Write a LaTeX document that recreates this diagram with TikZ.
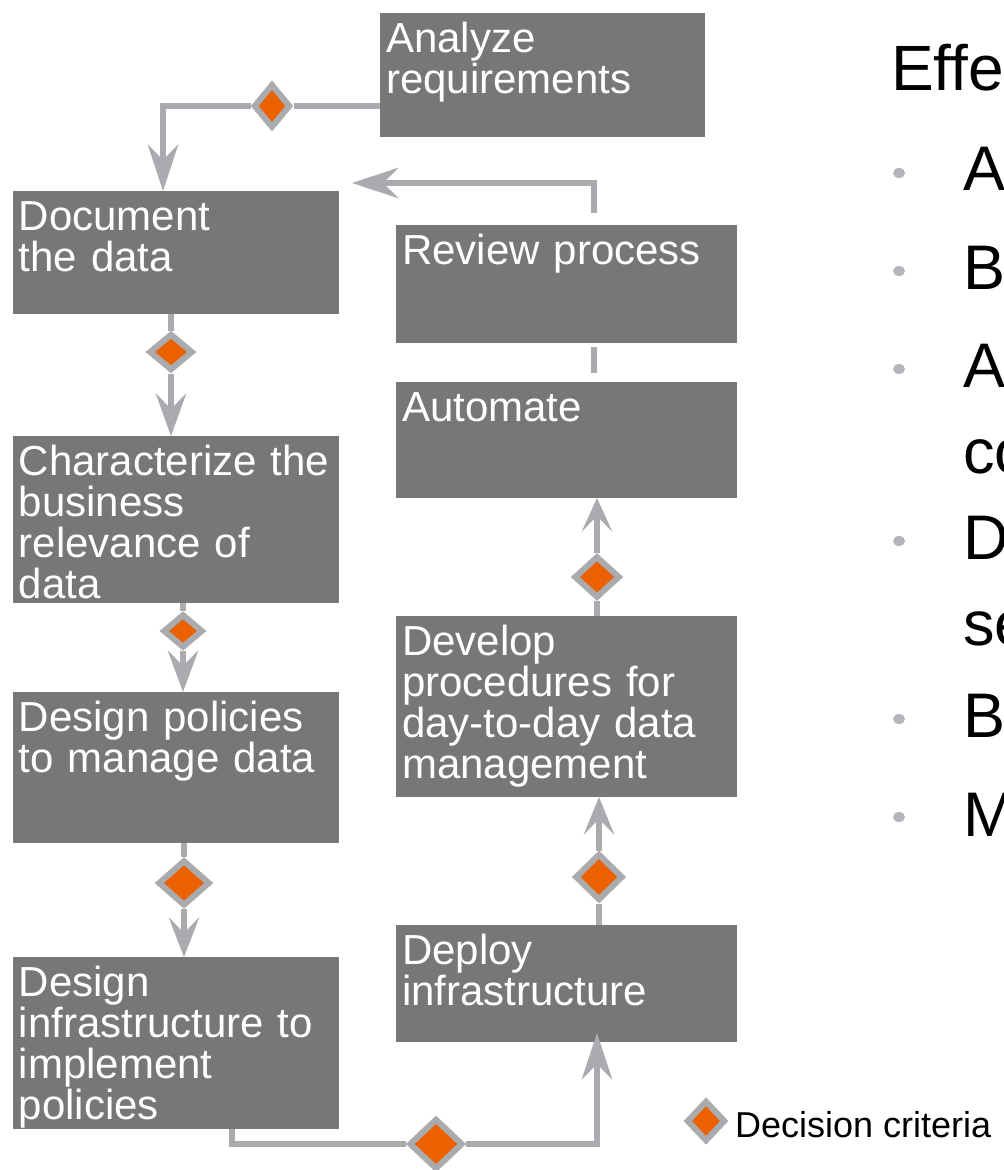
\documentclass[tikz,border=0pt]{standalone}
\usepackage{fontspec}
\setmainfont{Liberation Sans}
\usetikzlibrary{arrows.meta,shapes.geometric,calc}
\definecolor{boxgray}{HTML}{777777}
\definecolor{linegray}{HTML}{AAABAF}
\definecolor{dorange}{HTML}{EB6100}
\definecolor{dotgray}{HTML}{B4B5B8}
\begin{document}
\begin{tikzpicture}[x=1pt,y=-1pt,
  box/.style={fill=boxgray, draw=none, inner sep=0pt, outer sep=0pt, anchor=north west},
  boxtext/.style={text=white, font=\fontsize{42}{41}\selectfont, text width=330pt, align=left, inner sep=0pt, anchor=base west},
  conn/.style={draw=linegray, line width=6pt},
  arr/.style={conn, -{Stealth[length=#1, width=31pt, inset=16pt, line width=0pt]}},
  arr/.default=43pt,
  crit/.style={shape=diamond, fill=dorange, draw=linegray, line width=6pt, inner sep=0pt},
  side/.style={text=black, inner sep=0pt, anchor=base west},
  bullettext/.style={side, font=\fontsize{63}{63}\selectfont},
  bdot/.style={shape=ellipse, fill=dotgray, draw=none, inner sep=0pt, minimum width=12pt, minimum height=10pt}
]
\useasboundingbox (0,0) rectangle (1004,1170);
\clip (0,0) rectangle (1004,1170);

% boxes
\node[box, minimum width=325pt, minimum height=124pt] (A)    at (380,13)  {};
\node[box, minimum width=326pt, minimum height=123pt] (Doc)  at (13,191)  {};
\node[box, minimum width=341pt, minimum height=118pt] (Rev)  at (396,225) {};
\node[box, minimum width=341pt, minimum height=116pt] (Aut)  at (396,382) {};
\node[box, minimum width=326pt, minimum height=167pt] (Char) at (13,436)  {};
\node[box, minimum width=341pt, minimum height=181pt] (Dev)  at (396,616) {};
\node[box, minimum width=326pt, minimum height=151pt] (Pol)  at (13,692)  {};
\node[box, minimum width=341pt, minimum height=117pt] (Dep)  at (396,925) {};
\node[box, minimum width=326pt, minimum height=172pt] (Inf)  at (13,957)  {};

% box texts
\node[boxtext] (At)    at ($(A.north west)+(6,39)$)    {Analyze\\requirements};
\node[boxtext] (Doct)  at ($(Doc.north west)+(5.5,39)$)  {Document\\the data};
\node[boxtext] (Revt)  at ($(Rev.north west)+(6,39)$)  {Review process};
\node[boxtext] (Autt)  at ($(Aut.north west)+(6,39)$)  {Automate};
\node[boxtext] (Chart) at ($(Char.north west)+(5.5,39)$) {Characterize the\\business\\relevance of\\data};
\node[boxtext] (Devt)  at ($(Dev.north west)+(6,39)$)  {Develop\\procedures for\\day-to-day data\\management};
\node[boxtext] (Polt)  at ($(Pol.north west)+(5.5,39)$)  {Design policies\\to manage data};
\node[boxtext] (Dept)  at ($(Dep.north west)+(6,39)$)  {Deploy\\infrastructure};
\node[boxtext] (Inft)  at ($(Inf.north west)+(5.5,39)$)  {Design\\infrastructure to\\implement\\policies};

% decision diamonds
\node[crit, minimum width=37pt, minimum height=44pt] (D1) at (272,106) {};
\node[crit, minimum width=44pt, minimum height=37pt] (D2) at (171,352) {};
\node[crit, minimum width=40pt, minimum height=34pt] (D3) at (183,631) {};
\node[crit, minimum width=52pt, minimum height=46pt] (D4) at (184,883) {};
\node[crit, minimum width=54pt, minimum height=51pt] (D5) at (436,1144) {};
\node[crit, minimum width=48pt, minimum height=47pt] (D6) at (599,877) {};
\node[crit, minimum width=46pt, minimum height=42pt] (D7) at (597,577) {};

% helper coordinates
\coordinate (k1) at (163,0);
\coordinate (k5) at (232,0);
\coordinate (k6) at (597,0);
\coordinate (k7) at (594,0);
\coordinate (k8) at (352,183);

% connectors
\draw[conn] (A.west |- D1) -- (D1);
\draw[arr=47pt] (D1) -| (Doc.north -| k1);
\draw[conn] (Doc.south -| D2) -- (D2);
\draw[arr=43pt] (D2) -- (Char.north -| D2);
\draw[conn] (Char.south -| D3) -- (D3);
\draw[arr=42pt] (D3) -- (Pol.north -| D3);
\draw[conn] (Pol.south -| D4) -- (D4);
\draw[arr=40pt] (D4) -- (Inf.north -| D4);
\draw[conn] (Inf.south -| k5) |- (D5);
\draw[arr=47pt] (D5) -| ($(Dep.south -| k6)+(0,-9)$);
\draw[conn] (Dep.north -| D6) -- (D6);
\draw[arr=38pt] (D6) -- (Dev.south -| D6);
\draw[conn] (Dev.north -| D7) -- (D7);
\draw[arr=34pt] (D7) -- (Aut.south -| D7);
\draw[conn] ($(Rev.south -| k7)+(0,4)$) -- ($(Aut.north -| k7)+(0,-9)$);
\draw[arr=47pt] ($(Rev.north -| k7)+(0,-12)$) |- (k8);

% legend
\node[crit, minimum width=39pt, minimum height=41pt] (DL) at (706,1121) {};
\node[side, font=\fontsize{36}{36}\selectfont] (Lt) at (735,1137) {Decision criteria};

% right-hand text (cut by the picture edge, as in the reference)
\node[side, font=\fontsize{64}{64}\selectfont] (H) at (891,90) {Effe};
\node[bdot] (p1) at (899,173) {};
\node[bdot] (p2) at (899,271) {};
\node[bdot] (p3) at (899,369) {};
\node[bdot] (p4) at (899,541) {};
\node[bdot] (p5) at (899,719) {};
\node[bdot] (p6) at (899,817) {};
\node[bullettext] (b1)  at (963,190) {A};
\node[bullettext] (b2)  at (963,289) {B};
\node[bullettext] (b3)  at (963,387) {A};
\node[bullettext] (b3b) at (963,473) {co};
\node[bullettext] (b4)  at (963,559) {D};
\node[bullettext] (b4b) at (963,645) {se};
\node[bullettext] (b5)  at (963,737) {B};
\node[bullettext] (b6)  at (963,836) {M};
\end{tikzpicture}
\end{document}
